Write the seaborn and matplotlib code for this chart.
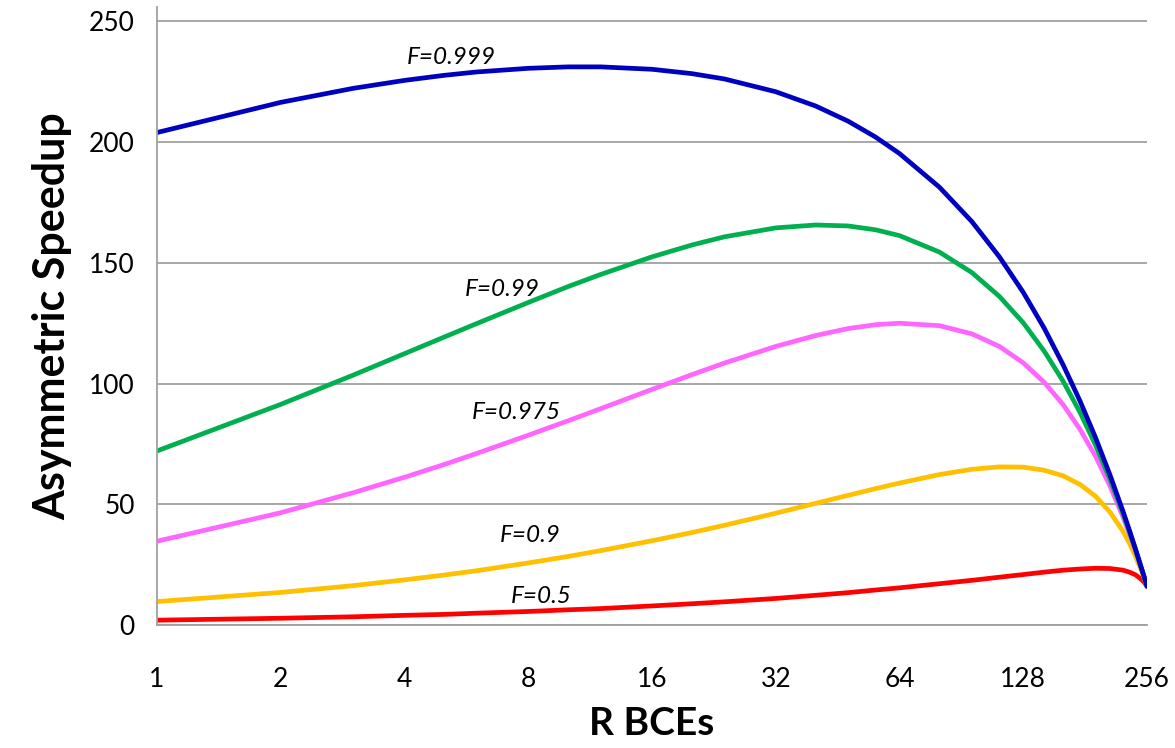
import numpy as np
import pandas as pd
import matplotlib
matplotlib.use('Agg')
import matplotlib.pyplot as plt
import seaborn as sns

r_bces = [1, 2, 3, 4, 5, 6, 8, 10, 12, 16, 20, 24, 32, 40, 48, 56, 64, 80, 96, 112,
          128, 144, 160, 176, 192, 208, 224, 232, 240, 248, 252, 256]
f0999 = [204.0, 216.5, 222.3, 225.6, 227.7, 229.1, 230.6, 231.2, 231.2, 230.2, 228.4, 226.2,
         220.9, 215.0, 208.7, 202.1, 195.3, 181.4, 167.1, 152.5, 137.8, 122.9, 107.8, 92.7,
         77.5, 62.2, 46.9, 39.2, 31.5, 23.7, 19.9, 16.0]
f099 = [72.1, 91.4, 103.5, 112.4, 119.3, 124.9, 133.6, 140.2, 145.2, 152.5, 157.4, 160.8,
        164.5, 165.7, 165.3, 163.7, 161.3, 154.5, 146.0, 136.1, 125.2, 113.4, 101.0, 88.0,
        74.4, 60.4, 46.0, 38.6, 31.2, 23.6, 19.8, 16.0]
f0975 = [34.7, 46.5, 54.8, 61.2, 66.5, 71.1, 78.6, 84.6, 89.6, 97.6, 103.7, 108.5,
         115.4, 119.9, 122.8, 124.4, 125.0, 124.0, 120.6, 115.4, 108.6, 100.5, 91.3, 81.0,
         69.8, 57.6, 44.6, 37.7, 30.7, 23.5, 19.8, 16.0]
f09 = [9.7, 13.5, 16.3, 18.7, 20.7, 22.5, 25.7, 28.4, 30.8, 34.9, 38.3, 41.3,
       46.3, 50.4, 53.7, 56.5, 58.8, 62.3, 64.5, 65.5, 65.4, 64.1, 61.8, 58.2,
       53.3, 46.8, 38.7, 33.9, 28.5, 22.6, 19.4, 16.0]
f05 = [2.0, 2.8, 3.4, 4.0, 4.4, 4.9, 5.6, 6.3, 6.8, 7.9, 8.8, 9.6,
       11.0, 12.3, 13.4, 14.5, 15.4, 17.1, 18.5, 19.8, 20.9, 21.9, 22.7, 23.2,
       23.5, 23.4, 22.7, 21.9, 20.8, 18.9, 17.7, 16.0]

series_names = ['F=0.999', 'F=0.99', 'F=0.975', 'F=0.9', 'F=0.5']
series_vals = [f0999, f099, f0975, f09, f05]
colores = ['#0000C0', '#00B050', '#FF66FF', '#FFC000', '#FF0000']

# posiciones de las etiquetas (x, y en datos)
label_pos = [(5.2, 235), (6.9, 139), (7.5, 88), (8.1, 37), (8.6, 12)]

x_ticks = [1, 2, 4, 8, 16, 32, 64, 128, 256]
y_ticks = [0, 50, 100, 150, 200, 250]

df = pd.DataFrame({
    'R': r_bces * len(series_names),
    'Speedup': sum(series_vals, []),
    'F': sum([[n] * len(r_bces) for n in series_names], []),
})

sns.set_style('white')
plt.rcParams['font.family'] = ['Lato', 'DejaVu Sans']

fig = plt.figure(figsize=(11.75, 7.48), dpi=100)
ax = fig.add_axes([157 / 1175, 123 / 748, 990 / 1175, 618 / 748])

# se dibuja F=0.5 primero para que la azul quede encima
sns.lineplot(data=df, x='R', y='Speedup', hue='F', palette=colores[::-1],
             hue_order=series_names[::-1], linewidth=3.4, legend=False, ax=ax,
             solid_capstyle='round', solid_joinstyle='round')

ax.set_xscale('log', base=2)
ax.set_xlim(1, 256)
ax.set_ylim(0, 256)
ax.set_xticks(x_ticks)
ax.set_xticklabels([str(t) for t in x_ticks])
ax.set_yticks(y_ticks)
ax.minorticks_off()

ax.yaxis.grid(True, color='#A0A0A0', linewidth=1.3)
ax.set_axisbelow(True)
for s in ['top', 'right']:
    ax.spines[s].set_visible(False)
for s in ['left', 'bottom']:
    ax.spines[s].set_color('#A0A0A0')
    ax.spines[s].set_linewidth(1.3)

ax.tick_params(axis='both', which='major', length=8, width=1.3, color='#A0A0A0',
               labelsize=19, labelcolor='black', direction='out')
ax.tick_params(axis='x', pad=22)
ax.tick_params(axis='y', pad=8)

ax.set_xlabel('R BCEs', fontsize=28, fontweight='bold', labelpad=10, color='black')
ax.set_ylabel('Asymmetric Speedup', fontsize=31, fontweight='bold', labelpad=12, color='black')

for name, (xp, yp) in zip(series_names, label_pos):
    ax.text(xp, yp, name, fontsize=17.5, fontstyle='italic', ha='center', va='center',
            color='black')

fig.savefig('out.png', dpi=100)
